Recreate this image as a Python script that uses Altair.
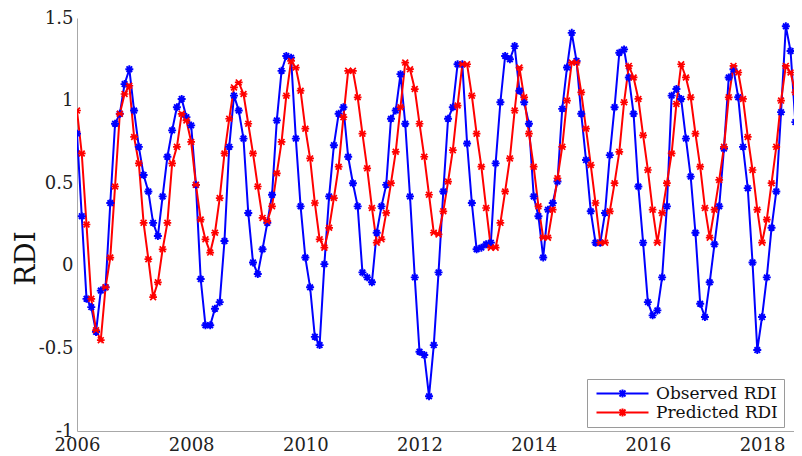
import altair as alt
import pandas as pd

# ---- data (monthly values, Jan 2006 onwards) ----
start_year = 2006
observed = [
    0.80, 0.30, -0.20, -0.25, -0.40, -0.15, -0.13, 0.38, 0.86, 0.92, 1.10, 1.19,
    0.94, 0.72, 0.55, 0.45, 0.26, 0.18, 0.42, 0.66, 0.82, 0.96, 1.01, 0.90,
    0.85, 0.49, -0.08, -0.36, -0.36, -0.26, -0.22, 0.15, 0.72, 1.03, 0.94, 0.77,
    0.32, 0.02, -0.05, 0.10, 0.26, 0.43, 0.88, 1.18, 1.27, 1.26, 0.77, 0.36,
    0.05, -0.13, -0.43, -0.48, 0.01, 0.42, 0.73, 0.92, 0.96, 0.66, 0.50, 0.36,
    -0.04, -0.07, -0.10, 0.20, 0.36, 0.49, 0.89, 0.94, 1.16, 0.86, 0.42, -0.07,
    -0.52, -0.54, -0.79, -0.48, -0.04, 0.45, 0.89, 0.96, 1.22, 1.22, 0.74, 0.38,
    0.10, 0.11, 0.13, 0.14, 0.62, 0.99, 1.27, 1.25, 1.33, 1.06, 0.99, 0.86,
    0.42, 0.30, 0.05, 0.34, 0.38, 0.51, 0.95, 1.20, 1.41, 1.24, 0.92, 0.64,
    0.33, 0.14, 0.14, 0.32, 0.67, 0.96, 1.29, 1.31, 1.14, 0.92, 0.48, 0.14,
    -0.22, -0.30, -0.27, -0.07, 0.36, 1.03, 1.07, 1.01, 0.77, 0.54, 0.20, -0.23,
    -0.31, -0.10, 0.13, 0.36, 0.71, 1.14, 1.19, 1.02, 0.72, 0.47, 0.02, -0.51,
    -0.31, -0.07, 0.23, 0.45, 0.93, 1.45, 1.30, 0.87,
]
predicted = [
    0.94, 0.68, 0.25, -0.20, -0.39, -0.45, -0.13, 0.05, 0.48, 0.92, 1.04, 1.09,
    0.78, 0.62, 0.26, 0.04, -0.19, -0.10, 0.10, 0.26, 0.62, 0.72, 0.92, 0.88,
    0.75, 0.49, 0.28, 0.16, 0.08, 0.20, 0.41, 0.68, 0.89, 1.08, 1.11, 1.04,
    0.86, 0.68, 0.48, 0.29, 0.27, 0.36, 0.56, 0.75, 1.03, 1.24, 1.20, 1.06,
    0.83, 0.65, 0.38, 0.16, 0.11, 0.23, 0.41, 0.60, 0.90, 1.18, 1.18, 1.02,
    0.80, 0.59, 0.35, 0.14, 0.16, 0.32, 0.50, 0.69, 0.96, 1.23, 1.19, 1.07,
    0.86, 0.66, 0.43, 0.20, 0.19, 0.33, 0.51, 0.70, 0.97, 1.22, 1.22, 1.03,
    0.80, 0.60, 0.35, 0.11, 0.11, 0.26, 0.45, 0.65, 0.94, 1.20, 1.02, 0.80,
    0.60, 0.36, 0.17, 0.17, 0.34, 0.53, 0.72, 1.00, 1.23, 1.23, 1.05, 0.83,
    0.61, 0.38, 0.14, 0.14, 0.33, 0.50, 0.69, 0.99, 1.21, 1.14, 1.01, 0.79,
    0.58, 0.34, 0.14, 0.32, 0.50, 0.68, 0.98, 1.22, 1.14, 1.02, 0.80, 0.60,
    0.35, 0.17, 0.34, 0.52, 0.72, 1.02, 1.21, 1.17, 1.01, 0.78, 0.58, 0.34,
    0.14, 0.28, 0.50, 0.72, 1.00, 1.21, 1.17, 1.05,
]
series_names = ["Observed RDI", "Predicted RDI"]
series_colors = ["#0000ff", "#ff0000"]
x_ticks = [2006, 2008, 2010, 2012, 2014, 2016, 2018]
y_ticks = [-1, -0.5, 0, 0.5, 1, 1.5]

rows = []
for name, vals in zip(series_names, [observed, predicted]):
    for i, v in enumerate(vals):
        rows.append({"t": start_year + i / 12.0, "rdi": v, "series": name})
df = pd.DataFrame(rows)

FONT = "DejaVu Serif"
star_path = "M-1,0L1,0M0,-1L0,1M-0.7,-0.7L0.7,0.7M-0.7,0.7L0.7,-0.7"
x_path = "M-1,0L1,0M-0.75,-0.75L0.75,0.75M-0.75,0.75L0.75,-0.75"
# legend glyph: a line with a small asterisk in its middle (units of 5 px)
legend_path = ("M-1,0L9.4,0M4.2,-0.8L4.2,0.8M3.6,-0.6L4.8,0.6"
               "M3.6,0.6L4.8,-0.6M3.4,0L5,0")

x_enc = alt.X(
    "t:Q",
    scale=alt.Scale(domain=[2006, 2018.56], nice=False, zero=False),
    axis=alt.Axis(values=x_ticks, labelExpr="toString(datum.value)", title=None,
                  grid=False, ticks=False, labelFlush=False, labelOverlap=False,
                  domainColor="#a8a8a8", labelFont=FONT, labelFontSize=18,
                  labelColor="#222222", labelPadding=5),
)
y_enc = alt.Y(
    "rdi:Q",
    scale=alt.Scale(domain=[-1, 1.5], nice=False, zero=False),
    axis=alt.Axis(values=y_ticks, labelExpr="toString(datum.value)", title="RDI",
                  grid=False, ticks=False, labelFlush=False, labelOverlap=False,
                  domainColor="#a8a8a8", labelFont=FONT, labelFontSize=18,
                  labelColor="#222222", labelPadding=4,
                  titleFont=FONT, titleFontSize=28, titleFontWeight="normal",
                  titleColor="#111111", titleX=-51, titleY=240,
                  titleAngle=270, titleAlign="center", titleBaseline="middle"),
)
color_enc = alt.Color(
    "series:N",
    scale=alt.Scale(domain=series_names, range=series_colors),
    legend=alt.Legend(title=None, orient="none", legendX=510, legendY=361,
                      direction="vertical", padding=6, strokeColor="#9a9a9a",
                      fillColor="white", symbolType=legend_path, symbolSize=100,
                      symbolStrokeWidth=2, labelFont=FONT, labelFontSize=17,
                      labelColor="#111111", rowPadding=1, labelOffset=46),
)

base = alt.Chart(df).encode(x=x_enc, y=y_enc)
lines = base.mark_line(strokeWidth=2, clip=True).encode(color=color_enc)

obs_points = base.transform_filter(
    alt.datum.series == series_names[0]
).mark_point(shape=star_path, filled=False, strokeWidth=1.9, size=64,
             opacity=1, clip=True, color=series_colors[0])
pred_points = base.transform_filter(
    alt.datum.series == series_names[1]
).mark_point(shape=x_path, filled=False, strokeWidth=1.7, size=60,
             opacity=1, clip=True, color=series_colors[1])

chart = alt.layer(lines, obs_points, pred_points).properties(
    width=717, height=413,
    padding={"left": 69, "top": 10, "right": 0, "bottom": 22},
    autosize=alt.AutoSizeParams(type="none"),
    background="white",
).configure_view(stroke=None)

chart.save("out.html", embed_options={"renderer": "svg", "actions": False})
